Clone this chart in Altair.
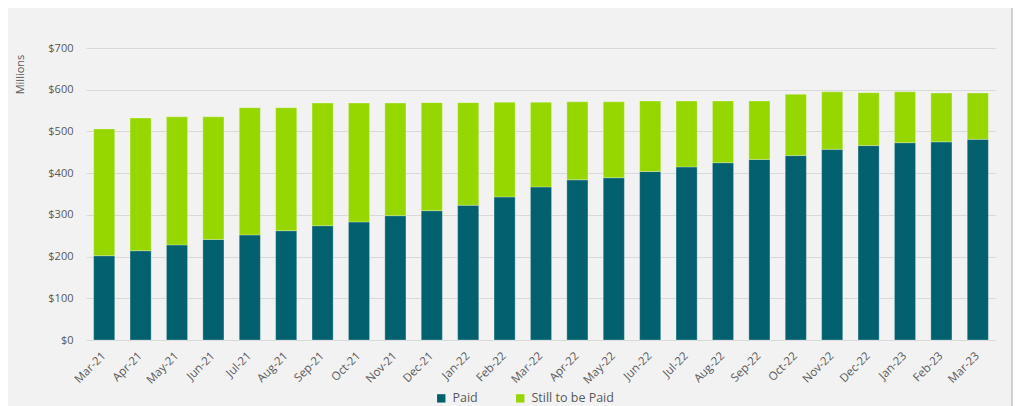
import altair as alt
import pandas as pd

months = ["Mar-21", "Apr-21", "May-21", "Jun-21", "Jul-21", "Aug-21", "Sep-21", "Oct-21",
          "Nov-21", "Dec-21", "Jan-22", "Feb-22", "Mar-22", "Apr-22", "May-22", "Jun-22",
          "Jul-22", "Aug-22", "Sep-22", "Oct-22", "Nov-22", "Dec-22", "Jan-23", "Feb-23", "Mar-23"]
paid = [202, 214, 228, 241, 252, 262, 274, 283, 298, 310, 323, 343, 367, 384, 389, 404,
        415, 425, 433, 442, 457, 466, 473, 475, 481]
still_to_be_paid = [304, 318, 307, 294, 305, 295, 294, 285, 270, 259, 246, 227, 203, 187, 182, 169,
                    158, 148, 140, 147, 138, 127, 122, 117, 111]
series = ["Paid", "Still to be Paid"]
colors = ["#02606F", "#97D700"]

rows = []
for m, p, s in zip(months, paid, still_to_be_paid):
    rows.append({"month": m, "series": series[0], "value": p, "ord": 0})
    rows.append({"month": m, "series": series[1], "value": s, "ord": 1})
df = pd.DataFrame(rows)

FONT = "Open Sans"
GRAY = "#595959"

bars = alt.Chart(df).mark_bar(stroke="#FFFFFF", strokeOpacity=0.35, strokeWidth=0.8).encode(
    x=alt.X("month:N", sort=months,
            scale=alt.Scale(paddingInner=0.42, paddingOuter=0.21),
            axis=alt.Axis(title=None, labelAngle=-45, labelAlign="right", labelBaseline="middle",
                          labelPadding=14, ticks=False, domain=False, labelFont=FONT,
                          labelFontSize=11.5, labelColor=GRAY)),
    y=alt.Y("value:Q", stack="zero",
            scale=alt.Scale(domain=[0, 700], nice=False),
            axis=alt.Axis(title="Millions", values=[0, 100, 200, 300, 400, 500, 600, 700],
                          format="$,.0f", ticks=False, domain=False, labelPadding=13,
                          labelFont=FONT, labelFontSize=11, labelColor=GRAY,
                          gridColor="#D9D9D9", gridWidth=1.2,
                          titleFont=FONT, titleFontSize=11, titleFontWeight="normal",
                          titleColor=GRAY, titleAngle=-90, titleX=-66, titleY=26,
                          titleAlign="center", titleBaseline="middle")),
    color=alt.Color("series:N", scale=alt.Scale(domain=series, range=colors),
                    legend=alt.Legend(title=None, orient="none", direction="horizontal",
                                      legendX=349, legendY=344, symbolType="square",
                                      symbolSize=70, symbolStrokeWidth=0, labelFont=FONT,
                                      labelFontSize=12.5, labelColor=GRAY, columnPadding=36,
                                      labelOffset=5)),
    order=alt.Order("ord:Q", sort="ascending"),
)

border = alt.Chart(df).mark_rule(color="#D0D0D0", strokeWidth=1.5, clip=False).encode(
    x=alt.value(926), y=alt.value(-40), y2=alt.value(358)
)

chart = alt.layer(bars, border).properties(
    width=910, height=292,
    background="#F2F2F2",
    padding={"left": 78, "top": 40, "right": 17, "bottom": 66},
    autosize=alt.AutoSizeParams(type="none"),
).configure_view(stroke=None)

chart.save("out.html", embed_options={"renderer": "svg", "actions": False})
